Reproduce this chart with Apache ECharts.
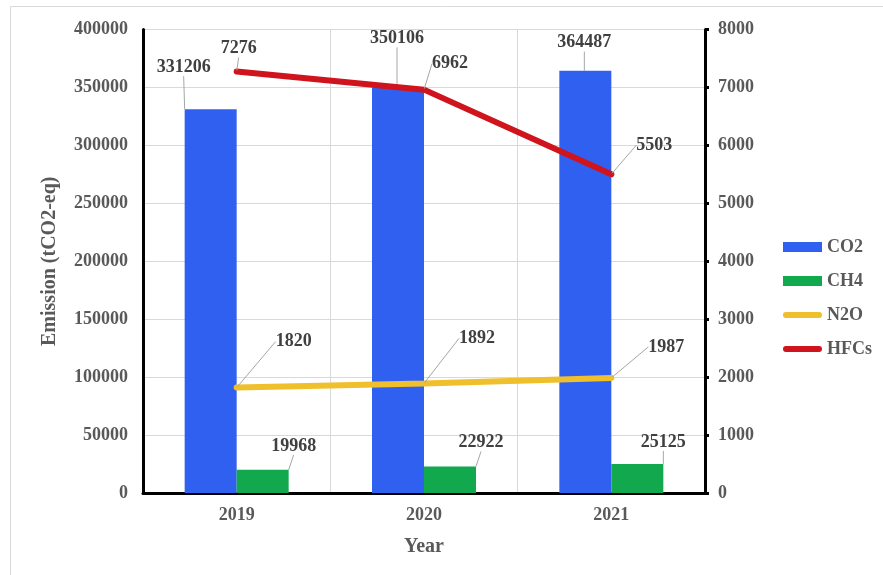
<!DOCTYPE html>
<html><head><meta charset="utf-8">
<script src="https://cdn.jsdelivr.net/npm/echarts@6/dist/echarts.min.js"></script>
<style>html,body{margin:0;padding:0;background:#fff}#c{width:883px;height:575px}</style>
</head><body><div id="c"></div>
<script>
const years = ['2019', '2020', '2021'];
const co2 = [331206, 350106, 364487];
const ch4 = [19968, 22922, 25125];
const n2o = [1820, 1892, 1987];
const hfcs = [7276, 6962, 5503];
const leftTicks = [0, 400000, 50000];
const rightTicks = [0, 8000, 1000];

const FONT = 'Liberation Serif';
const labelOffsets = {
  CO2: [[-27, -28], [-1, -35], [-1, -14]],
  CH4: [[31, -10], [31, -10], [26, -8]],
  N2O: [[57, -31], [53, -30], [55, -16]],
  HFCs: [[2, -8], [26, -11], [43, -14]]
};
const lblStyle = {show: true, position: 'top', fontFamily: FONT, fontWeight: 'bold', fontSize: 18, color: '#404040'};
const lblLine = {show: true, lineStyle: {color: '#a6a6a6', width: 1}};
function layoutFor(name) {
  return p => ({dx: labelOffsets[name][p.dataIndex][0], dy: labelOffsets[name][p.dataIndex][1]});
}
const lineIcon = 'path://M0,0L0.01,0M3,2L37,2A3,3 0 0 1 37,8L3,8A3,3 0 0 1 3,2ZM0,10L0.01,10';

const chart = echarts.init(document.getElementById('c'));
chart.setOption({
  animation: false,
  backgroundColor: '#fff',
  graphic: [{type: 'rect', shape: {x: 10.5, y: 6.5, width: 900, height: 600}, style: {fill: 'none', stroke: '#d9d9d9', lineWidth: 1}, z: -1}],
  grid: {left: 143, right: 178, top: 29.5, bottom: 82},
  legend: {
    orient: 'vertical', left: 778, top: 233, itemWidth: 39, itemHeight: 10, itemGap: 16,
    textStyle: {fontFamily: FONT, fontWeight: 'bold', fontSize: 18, color: '#595959'},
    data: [{name: 'CO2', icon: 'rect'}, {name: 'CH4', icon: 'rect'}, {name: 'N2O', icon: lineIcon}, {name: 'HFCs', icon: lineIcon}]
  },
  xAxis: {
    type: 'category', data: years, boundaryGap: true,
    name: 'Year', nameLocation: 'middle', nameGap: 44,
    nameTextStyle: {fontFamily: FONT, fontWeight: 'bold', fontSize: 20, color: '#595959'},
    axisLine: {lineStyle: {color: '#000', width: 3}},
    axisTick: {show: false},
    axisLabel: {fontFamily: FONT, fontWeight: 'bold', fontSize: 18, color: '#595959', margin: 13},
    splitLine: {show: true, lineStyle: {color: '#d9d9d9'}}
  },
  yAxis: [{
    type: 'value', min: leftTicks[0], max: leftTicks[1], interval: leftTicks[2],
    name: 'Emission (tCO2-eq)', nameLocation: 'middle', nameGap: 83,
    nameTextStyle: {fontFamily: FONT, fontWeight: 'bold', fontSize: 20, color: '#595959'},
    axisLine: {show: true, lineStyle: {color: '#000', width: 3}},
    axisTick: {show: false},
    axisLabel: {fontFamily: FONT, fontWeight: 'bold', fontSize: 18, color: '#595959', margin: 15, formatter: v => String(v)},
    splitLine: {lineStyle: {color: '#d9d9d9'}}
  }, {
    type: 'value', min: rightTicks[0], max: rightTicks[1], interval: rightTicks[2], position: 'right',
    axisLine: {show: true, lineStyle: {color: '#000', width: 3}},
    axisTick: {show: true, length: 4, lineStyle: {color: '#000', width: 3}},
    axisLabel: {fontFamily: FONT, fontWeight: 'bold', fontSize: 18, color: '#595959', margin: 13, formatter: v => String(v)},
    splitLine: {show: false}
  }],
  series: [
    {name: 'CO2', type: 'bar', data: co2, barWidth: 52, barGap: '0%', itemStyle: {color: '#3060F0'},
     label: lblStyle, labelLine: lblLine, labelLayout: layoutFor('CO2')},
    {name: 'CH4', type: 'bar', data: ch4, barWidth: 52, barGap: '0%', itemStyle: {color: '#12A84E'},
     label: lblStyle, labelLine: lblLine, labelLayout: layoutFor('CH4')},
    {name: 'N2O', type: 'line', yAxisIndex: 1, data: n2o, symbol: 'circle', symbolSize: 2, z: 5,
     itemStyle: {color: '#EFBF2C'}, lineStyle: {color: '#EFBF2C', width: 6, cap: 'round'},
     label: lblStyle, labelLine: lblLine, labelLayout: layoutFor('N2O')},
    {name: 'HFCs', type: 'line', yAxisIndex: 1, data: hfcs, symbol: 'circle', symbolSize: 2, z: 5,
     itemStyle: {color: '#D0141E'}, lineStyle: {color: '#D0141E', width: 6, cap: 'round'},
     label: lblStyle, labelLine: lblLine, labelLayout: layoutFor('HFCs')}
  ]
});
</script></body></html>
